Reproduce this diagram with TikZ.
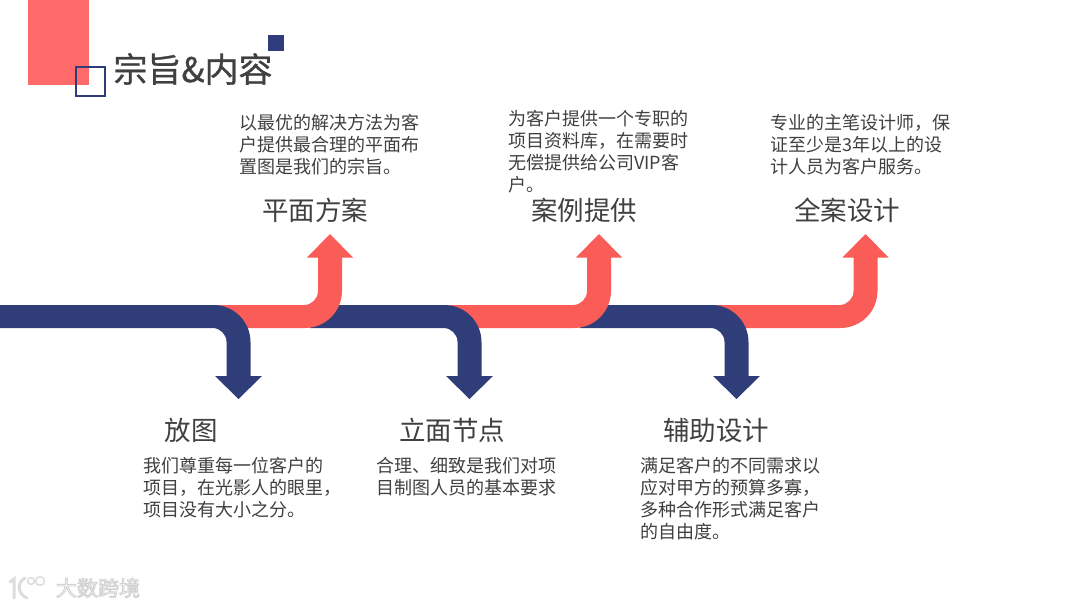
\documentclass[tikz,border=0pt]{standalone}
\usepackage{fontspec}
\setmainfont{Noto Sans CJK SC}
\newfontfamily\headfont[FakeBold=0.9]{Noto Sans CJK SC}
\newfontfamily\markfont{Noto Sans CJK SC}
\definecolor{flowred}{HTML}{FA5C57}
\definecolor{flownavy}{HTML}{2F3E78}
\definecolor{blockpink}{HTML}{FF6B6B}
\definecolor{squarenavy}{HTML}{2E3C7C}
\definecolor{inktext}{HTML}{404040}
\definecolor{markgrey}{HTML}{DCDCDC}
\tikzset{
  x=1pt,y=-1pt,
  bodytext/.style={anchor=north west,inner sep=0pt,align=left,text=inktext,font=\fontsize{18}{22}\selectfont},
  headtext/.style={anchor=center,inner sep=0pt,text=inktext,font=\fontsize{26.5}{30}\selectfont},
}
% start x, stem centre x
\newcommand{\bendup}[2]{%
  \fill[flowred] (#1,305) -- (#2-26,305) .. controls (#2-18.3,305) and (#2-12,298.7) .. (#2-12,291)
    -- (#2-12,257.5) -- (#2-23,257.5) -- (#2,234) -- (#2+23,257.5) -- (#2+12,257.5) -- (#2+12,291)
    .. controls (#2+12,311.4) and (#2-4.6,328) .. (#2-25,328) -- (#1,328) -- cycle;}
\newcommand{\benddown}[2]{%
  \fill[flownavy] (#1,305) -- (#2-25,305) .. controls (#2-4.6,305) and (#2+12,321.6) .. (#2+12,342)
    -- (#2+12,376) -- (#2+23.5,376) -- (#2,399) -- (#2-23.5,376) -- (#2-12,376) -- (#2-12,342)
    .. controls (#2-12,334.3) and (#2-18.3,328) .. (#2-26,328) -- (#1,328) -- cycle;}
\begin{document}
\begin{tikzpicture}
\useasboundingbox (0,0) rectangle (1080,608);
\fill[white] (0,0) rectangle (1080,608);
% header decoration
\fill[blockpink] (28,0) rectangle (89,85);
\draw[squarenavy,line width=2pt] (76,67) rectangle (104.5,96);
\fill[squarenavy] (268,35) rectangle (284,50.5);
\node[anchor=center,inner sep=0pt,text=inktext,font=\headfont\fontsize{34}{38}\selectfont] (title) at (193,69) {宗旨\&内容};
% flow, back to front
\bendup{715}{865.5}
\benddown{580}{736.5}
\bendup{450}{599}
\benddown{310}{469.5}
\bendup{216}{330}
\benddown{0}{238.5}
% upper columns
\node[headtext] (h1) at (315,210) {平面方案};
\node[headtext] (h2) at (584,210) {案例提供};
\node[headtext] (h3) at (847,210) {全案设计};
\node[bodytext] (b1) at (239,114) {以最优的解决方法为客\\户提供最合理的平面布\\置图是我们的宗旨。};
\node[bodytext] (b2) at (508,110) {为客户提供一个专职的\\项目资料库，在需要时\\无偿提供给公司VIP客\\户。};
\node[bodytext] (b3) at (770,114) {专业的主笔设计师，保\\证至少是3年以上的设\\计人员为客户服务。};
% lower columns
\node[headtext] (h4) at (191,430) {放图};
\node[headtext] (h5) at (452,430) {立面节点};
\node[headtext] (h6) at (716,430) {辅助设计};
\node[bodytext] (b4) at (143,457.5) {我们尊重每一位客户的\\项目，在光影人的眼里，\\项目没有大小之分。};
\node[bodytext] (b5) at (376,457.5) {合理、细致是我们对项\\目制图人员的基本要求};
\node[bodytext] (b6) at (640,457.5) {满足客户的不同需求以\\应对甲方的预算多寡，\\多种合作形式满足客户\\的自由度。};
% watermark
\draw[markgrey,line width=3pt,line cap=round] (10,582) -- (14,579) -- (14,598);
\draw[markgrey,line width=3pt,line cap=round] (25,578) .. controls (17,582) and (17,594) .. (27,598);
\draw[markgrey,line width=1.5pt] (31,581) circle (3.4) (40,581) circle (4.4);
\node[anchor=center,inner sep=0pt,text=white,font=\markfont\fontsize{21}{24}\selectfont] (mark) at (98,588) {\special{pdf:code 2 Tr 0.9 w 0.82 0.82 0.82 RG}大数跨境\special{pdf:code 0 Tr}};
\end{tikzpicture}
\end{document}
